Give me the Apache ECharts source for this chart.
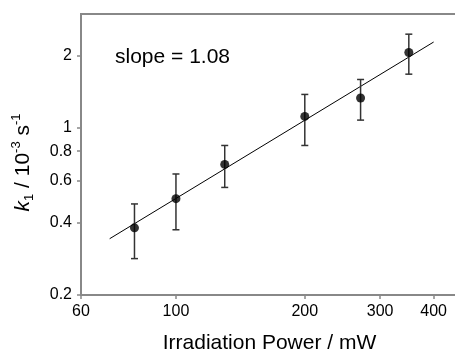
<!DOCTYPE html>
<html>
<head>
<meta charset="utf-8">
<script src="https://cdn.jsdelivr.net/npm/echarts@6/dist/echarts.min.js"></script>
<style>html,body{margin:0;padding:0;background:#fff;}#c{width:455px;height:352px;}</style>
</head>
<body>
<div id="c"></div>
<script>
// Data (log-log plot)
var power = [80, 100, 130, 200, 270, 350];          // mW
var k1 = [0.382, 0.506, 0.704, 1.118, 1.335, 2.07];  // 10^-3 s^-1
var errLow = [0.284, 0.375, 0.564, 0.845, 1.079, 1.68];
var errHigh = [0.481, 0.642, 0.845, 1.382, 1.596, 2.47];
var fitX = [70, 400];
var fitY = [0.344, 2.29];
var xTicks = [60, 100, 200, 300, 400];
var yTicks = [0.2, 0.4, 0.6, 0.8, 1, 2];
var slopeText = 'slope = 1.08';

var points = power.map(function (p, i) { return [p, k1[i]]; });
var bars = power.map(function (p, i) { return [p, errLow[i], errHigh[i]]; });
var fit = fitX.map(function (x, i) { return [x, fitY[i]]; });

var chart = echarts.init(document.getElementById('c'), null, {renderer: 'canvas'});
var font = 'Liberation Sans, Arial, sans-serif';
chart.setOption({
  animation: false,
  grid: {left: 81, top: 14, right: -3, bottom: 57, show: true, borderColor: '#888', borderWidth: 2,
    containLabel: false, outerBoundsMode: 'none'},
  xAxis: {
    type: 'log', min: 60, max: 456,
    name: 'Irradiation Power / mW', nameLocation: 'middle', nameGap: 38,
    nameTextStyle: {fontFamily: font, fontSize: 21, color: '#000'},
    axisLine: {lineStyle: {color: '#888', width: 2}},
    axisTick: {show: true, length: 4, lineStyle: {color: '#888', width: 1.5}, customValues: xTicks},
    axisLabel: {fontFamily: font, fontSize: 16, color: '#000', margin: 9, customValues: xTicks,
      formatter: function (v) { return String(Math.round(v)); }},
    splitLine: {show: false}, minorTick: {show: false}
  },
  yAxis: {
    type: 'log', min: 0.2, max: 3,
    name: '{k|k}{sub|1}{n| / 10}{sup|-3}{n| s}{sup|-1}', nameLocation: 'middle', nameGap: 43,
    nameTextStyle: {
      fontFamily: font, fontSize: 21, color: '#000', padding: [0, 16, 0, 0],
      rich: {
        k: {fontFamily: font, fontSize: 21, fontStyle: 'italic', lineHeight: 30, verticalAlign: 'middle'},
        n: {fontFamily: font, fontSize: 21, lineHeight: 30, verticalAlign: 'middle'},
        sub: {fontFamily: font, fontSize: 13, lineHeight: 30, verticalAlign: 'bottom', padding: [0, 0, 2, 0]},
        sup: {fontFamily: font, fontSize: 13, lineHeight: 30, verticalAlign: 'top', padding: [2, 0, 0, 0]}
      }
    },
    axisLine: {lineStyle: {color: '#888', width: 2}},
    axisTick: {show: true, length: 4, lineStyle: {color: '#888', width: 1.5}, customValues: yTicks},
    axisLabel: {fontFamily: font, fontSize: 16, color: '#000', margin: 9, customValues: yTicks,
      formatter: function (v) { return String(parseFloat(v.toPrecision(3))); }},
    splitLine: {show: false}, minorTick: {show: false}
  },
  graphic: [{
    type: 'text', left: 115, top: 47,
    style: {text: slopeText, fontFamily: font, fontSize: 21, fill: '#000'}
  }],
  series: [
    {
      type: 'line', data: fit, showSymbol: false, symbol: 'none',
      lineStyle: {color: '#000', width: 1}, z: 2
    },
    {
      type: 'custom', data: bars, z: 3,
      renderItem: function (params, api) {
        var x = api.value(0);
        var lo = api.coord([x, api.value(1)]);
        var hi = api.coord([x, api.value(2)]);
        var w = 3.5;
        var st = {stroke: '#333', lineWidth: 1.5, fill: null};
        return {
          type: 'group',
          children: [
            {type: 'line', shape: {x1: lo[0], y1: lo[1], x2: hi[0], y2: hi[1]}, style: st},
            {type: 'line', shape: {x1: lo[0] - w, y1: lo[1], x2: lo[0] + w, y2: lo[1]}, style: st},
            {type: 'line', shape: {x1: hi[0] - w, y1: hi[1], x2: hi[0] + w, y2: hi[1]}, style: st}
          ]
        };
      }
    },
    {
      type: 'scatter', data: points, symbol: 'circle', symbolSize: 9,
      itemStyle: {color: '#000'}, z: 4
    }
  ]
});
</script>
</body>
</html>
